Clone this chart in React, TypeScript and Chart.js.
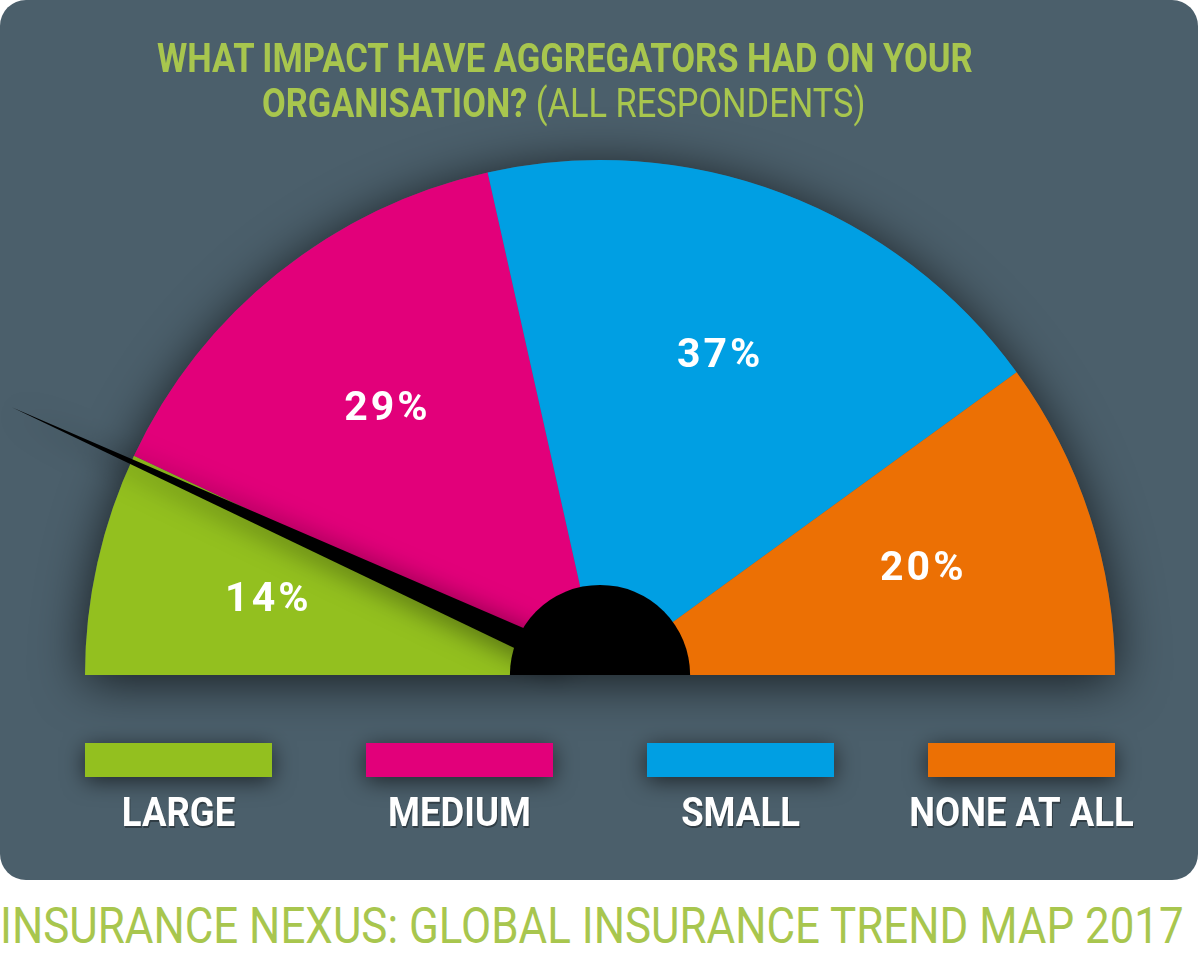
import React, { useEffect, useLayoutEffect, useRef } from "react";
import { Chart, registerables } from "chart.js";

Chart.register(...registerables);

// ---- data ----
const categories = ["LARGE", "MEDIUM", "SMALL", "NONE AT ALL"];
const shares = [14, 29, 37, 20];
const sliceColors = ["#93c01f", "#e2007a", "#009fe3", "#ec7004"];
const needleValue = 13.6; // position of the needle along the gauge, in %
const titleBold1 = "WHAT IMPACT HAVE AGGREGATORS HAD ON YOUR";
const titleBold2 = "ORGANISATION? ";
const titleLight2 = "(ALL RESPONDENTS)";
const footerText = "INSURANCE NEXUS: GLOBAL INSURANCE TREND MAP 2017";

const PANEL = "#4b5f6b";
const GREEN_TEXT = "#a8c64e";

function FitLine({ left, top, width, fontSize, color, children }: any) {
  const ref = useRef<HTMLDivElement>(null);
  useLayoutEffect(() => {
    const el = ref.current;
    if (!el) return;
    el.style.transform = "none";
    const w = el.scrollWidth;
    if (w > 0) el.style.transform = `scaleX(${width / w})`;
  });
  return (
    <div
      ref={ref}
      style={{
        position: "absolute",
        left,
        top,
        whiteSpace: "nowrap",
        fontFamily: "Roboto, 'DejaVu Sans', sans-serif",
        fontSize,
        lineHeight: `${fontSize}px`,
        color,
        transformOrigin: "left top",
      }}
    >
      {children}
    </div>
  );
}

const gaugePlugin = {
  id: "gaugeDecor",
  beforeDatasetsDraw(chart: any) {
    const meta = chart.getDatasetMeta(0);
    const a0 = meta.data[0];
    if (!a0) return;
    const { x, y, outerRadius } = a0.getProps(["x", "y", "outerRadius"], true);
    const ctx = chart.ctx;
    ctx.save();
    ctx.shadowColor = "rgba(0,0,0,0.7)";
    ctx.shadowBlur = 50;
    ctx.shadowOffsetY = 6;
    ctx.fillStyle = PANEL;
    ctx.beginPath();
    ctx.moveTo(x - outerRadius, y);
    ctx.arc(x, y, outerRadius, Math.PI, 2 * Math.PI);
    ctx.closePath();
    ctx.fill();
    ctx.restore();
  },
  afterDatasetsDraw(chart: any) {
    const meta = chart.getDatasetMeta(0);
    const arcs = meta.data;
    if (!arcs.length) return;
    const { x, y, outerRadius } = arcs[0].getProps(["x", "y", "outerRadius"], true);
    const ctx = chart.ctx;
    const values = chart.data.datasets[0].data as number[];

    // percentage labels
    ctx.save();
    ctx.fillStyle = "#ffffff";
    ctx.font = "bold 41px Roboto, 'DejaVu Sans', sans-serif";
    (ctx as any).letterSpacing = "3px";
    ctx.textAlign = "center";
    ctx.textBaseline = "middle";
    arcs.forEach((arc: any, i: number) => {
      const { startAngle, endAngle } = arc.getProps(["startAngle", "endAngle"], true);
      const mid = (startAngle + endAngle) / 2;
      const r = outerRadius * 0.66;
      ctx.fillText(`${values[i]}%`, x + Math.cos(mid) * r, y + Math.sin(mid) * r);
    });
    ctx.restore();

    // needle
    const start = arcs[0].getProps(["startAngle"], true).startAngle;
    const end = arcs[arcs.length - 1].getProps(["endAngle"], true).endAngle;
    const total = values.reduce((s, v) => s + v, 0);
    const ang = start + (needleValue / total) * (end - start);
    const len = outerRadius * 1.255;
    const hw = 12;
    const baseD = 40;
    const dx = Math.cos(ang), dy = Math.sin(ang);
    const px = -dy, py = dx;
    const bx = x + dx * baseD, by = y + dy * baseD;
    ctx.save();
    ctx.shadowColor = "rgba(0,0,0,0.55)";
    ctx.shadowBlur = 28;
    ctx.shadowOffsetY = 4;
    ctx.fillStyle = "#000000";
    ctx.beginPath();
    ctx.moveTo(x + dx * len, y + dy * len);
    ctx.lineTo(bx + px * hw, by + py * hw);
    ctx.lineTo(bx - px * hw, by - py * hw);
    ctx.closePath();
    ctx.fill();
    ctx.restore();

    // hub
    ctx.save();
    ctx.fillStyle = "#000000";
    ctx.beginPath();
    ctx.moveTo(x - outerRadius * 0.175, y);
    ctx.arc(x, y, outerRadius * 0.175, Math.PI, 2 * Math.PI);
    ctx.closePath();
    ctx.fill();
    ctx.restore();
  },
  afterDraw(chart: any) {
    const ctx = chart.ctx;
    const area = chart.chartArea;
    const labels = chart.data.labels as string[];
    const cols = chart.data.datasets[0].backgroundColor as string[];
    const n = labels.length;
    const boxW = 187;
    const boxH = 34;
    const boxTop = 743;
    const gap = (area.right - area.left - n * boxW) / (n - 1);
    labels.forEach((lab, i) => {
      const bx = area.left + i * (boxW + gap);
      ctx.save();
      ctx.shadowColor = "rgba(0,0,0,0.6)";
      ctx.shadowBlur = 22;
      ctx.shadowOffsetY = 4;
      ctx.fillStyle = cols[i];
      ctx.fillRect(bx, boxTop, boxW, boxH);
      ctx.restore();

      ctx.save();
      ctx.translate(bx + boxW / 2, 826);
      ctx.scale(0.89, 1);
      ctx.fillStyle = "#ffffff";
      ctx.shadowColor = "rgba(0,0,0,0.35)";
      ctx.shadowOffsetX = 1;
      ctx.shadowOffsetY = 2;
      ctx.font = "bold 41px Roboto, 'DejaVu Sans', sans-serif";
      ctx.textAlign = "center";
      ctx.textBaseline = "alphabetic";
      ctx.fillText(lab, 0, 0);
      ctx.restore();
    });
  },
};

export default function App() {
  const canvasRef = useRef<HTMLCanvasElement>(null);

  useEffect(() => {
    if (!canvasRef.current) return;
    const chart = new Chart(canvasRef.current, {
      type: "doughnut",
      data: {
        labels: categories,
        datasets: [
          {
            data: shares,
            backgroundColor: sliceColors,
            borderWidth: 0,
          },
        ],
      },
      options: {
        responsive: false,
        animation: false,
        rotation: -90,
        circumference: 180,
        cutout: 0,
        layout: { padding: { left: 85, right: 85, top: 160, bottom: 205 } },
        plugins: {
          legend: { display: false },
          tooltip: { enabled: false },
          title: { display: false },
        },
        events: [],
      },
      plugins: [gaugePlugin],
    });
    return () => chart.destroy();
  }, []);

  return (
    <div
      style={{
        position: "absolute",
        left: 0,
        top: 0,
        width: 1200,
        height: 971,
        background: "#ffffff",
        overflow: "hidden",
      }}
    >
      <div
        style={{
          position: "absolute",
          left: 0,
          top: 0,
          width: 1198,
          height: 880,
          borderRadius: 26,
          background: PANEL,
          overflow: "hidden",
        }}
      >
        <canvas ref={canvasRef} width={1200} height={880} style={{ display: "block" }} />
        <FitLine left={157} top={37.5} width={816} fontSize={41} color={GREEN_TEXT}>
          <span style={{ fontWeight: 700 }}>{titleBold1}</span>
        </FitLine>
        <FitLine left={262} top={82.5} width={603} fontSize={41} color={GREEN_TEXT}>
          <span style={{ fontWeight: 700 }}>{titleBold2}</span>
          <span style={{ fontWeight: 400 }}>{titleLight2}</span>
        </FitLine>
      </div>
      <FitLine left={0} top={901} width={1184} fontSize={50} color={GREEN_TEXT}>
        <span style={{ fontWeight: 400 }}>{footerText}</span>
      </FitLine>
    </div>
  );
}
